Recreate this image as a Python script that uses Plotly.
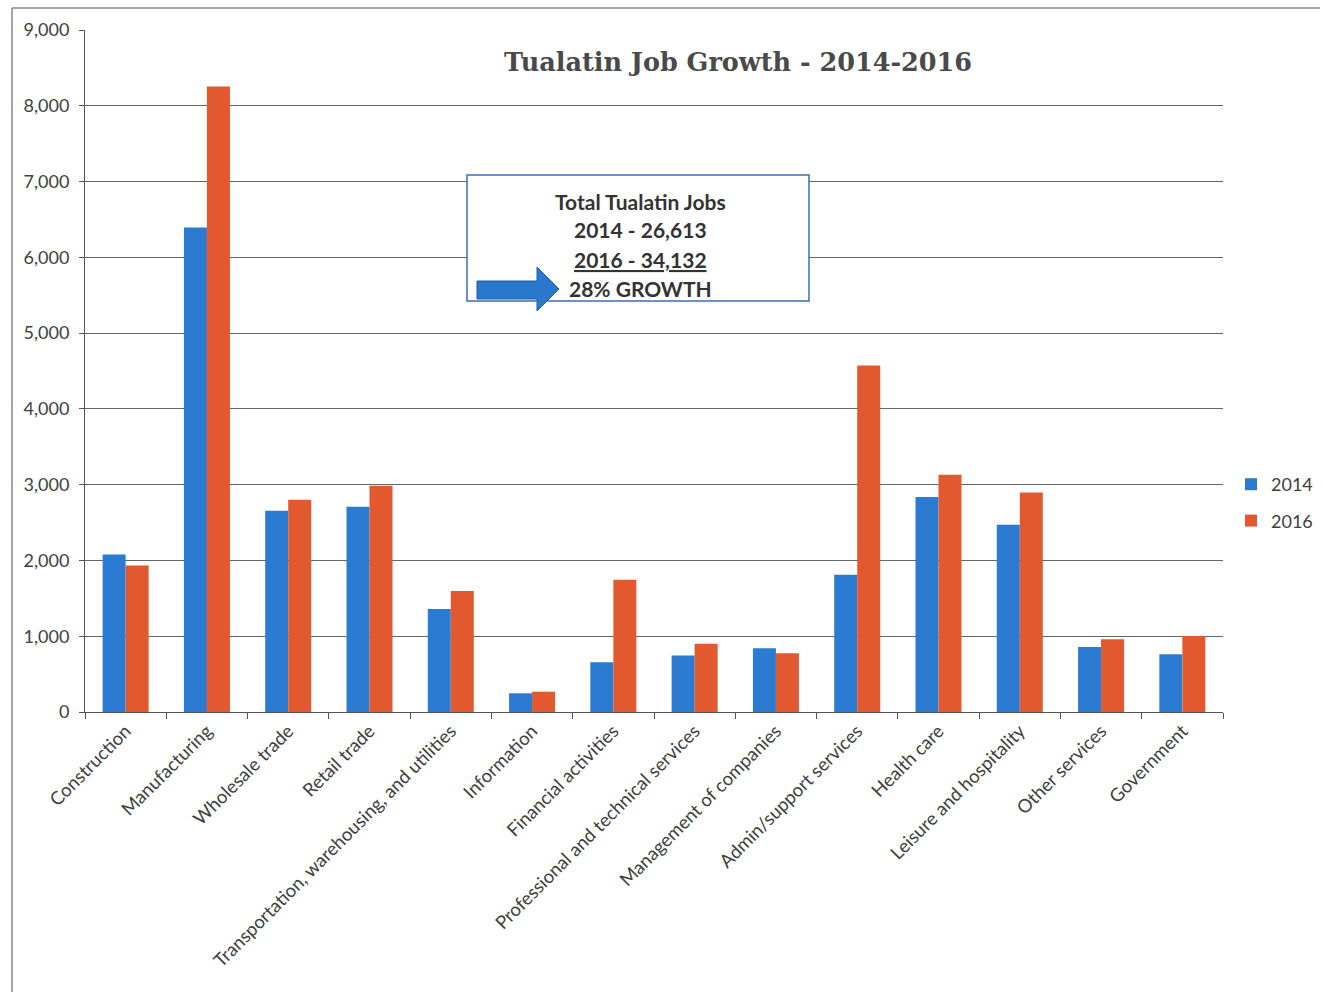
import plotly.graph_objects as go

# Job counts by industry, Tualatin
categories = [
    "Construction", "Manufacturing", "Wholesale trade", "Retail trade",
    "Transportation, warehousing, and utilities", "Information",
    "Financial activities", "Professional and technical services",
    "Management of companies", "Admin/support services", "Health care",
    "Leisure and hospitality", "Other services", "Government",
]
jobs_2014 = [2078, 6394, 2655, 2708, 1360, 247, 656, 744, 841, 1810, 2836, 2470, 859, 762]
jobs_2016 = [1933, 8256, 2800, 2985, 1598, 268, 1744, 902, 775, 4571, 3131, 2897, 960, 1004]
series_names = ["2014", "2016"]
y_ticks = [0, 1000, 2000, 3000, 4000, 5000, 6000, 7000, 8000, 9000]
y_tick_text = ["0", "1,000", "2,000", "3,000", "4,000", "5,000", "6,000", "7,000", "8,000", "9,000"]
summary_lines = ["Total Tualatin Jobs", "2014 - 26,613", "2016 - 34,132", "28% GROWTH"]

W, H = 1323, 992
L, R, T, B = 85, 100, 30, 280
PW, PH = W - L - R, H - T - B


def px(x):
    return (x - L) / PW


def py(y):
    return (H - B - y) / PH


BLUE = "#2b7bd3"
ORANGE = "#e3592f"
TEXT = "#404040"
GRID = "#666666"
FONT = "Lato, 'Open Sans', sans-serif"

fig = go.Figure()
fig.add_trace(go.Bar(x=categories, y=jobs_2014, name=series_names[0],
                     marker=dict(color=BLUE, line=dict(width=0)), legendgroup="a"))
fig.add_trace(go.Bar(x=categories, y=jobs_2016, name=series_names[1],
                     marker=dict(color=ORANGE, line=dict(width=0)), legendgroup="b"))

fig.update_layout(
    width=W, height=H,
    margin=dict(l=L, r=R, t=T, b=B, autoexpand=False),
    paper_bgcolor="white", plot_bgcolor="white",
    barmode="group", bargap=0.434, bargroupgap=0,
    font=dict(family=FONT, size=18, color=TEXT),
    title=dict(text="<b>Tualatin Job Growth - 2014-2016</b>",
               font=dict(family="'DejaVu Serif', serif", size=25.5, color="#4a4a4a"),
               xref="paper", x=px(738), xanchor="center",
               yref="container", y=1 - 62 / H, yanchor="middle"),
    legend=dict(x=px(1231), xanchor="left", y=py(466), yanchor="top",
                font=dict(family=FONT, size=18, color=TEXT),
                tracegroupgap=10, itemwidth=30, bgcolor="rgba(0,0,0,0)"),
    xaxis=dict(tickangle=-45, tickson="boundaries", ticks="outside", ticklen=6,
               tickcolor="#555", showline=True, linecolor="#555", linewidth=1,
               showgrid=False, tickfont=dict(family=FONT, size=18.5, color=TEXT)),
    yaxis=dict(range=[0, 9000], tickvals=y_ticks, ticktext=y_tick_text,
               ticks="outside", ticklen=5, tickcolor="#555", ticklabelstandoff=6,
               showline=True, linecolor="#555", linewidth=1,
               showgrid=True, gridcolor=GRID, gridwidth=1, zeroline=False,
               tickfont=dict(family=FONT, size=18, color=TEXT)),
)

# Page frame (top and left edges)
fig.add_shape(type="line", xref="paper", yref="paper",
              x0=px(12), x1=px(1320), y0=py(8), y1=py(8),
              line=dict(color="#888888", width=1.5))
fig.add_shape(type="line", xref="paper", yref="paper",
              x0=px(12), x1=px(12), y0=py(8), y1=py(992),
              line=dict(color="#888888", width=1.5))

# Summary box
fig.add_shape(type="rect", xref="paper", yref="paper",
              x0=px(467), x1=px(809), y0=py(301), y1=py(175),
              line=dict(color="#3b6db8", width=1.5), fillcolor="white", layer="above")

line_y = [201, 230, 259, 288]
for i, (txt, yy) in enumerate(zip(summary_lines, line_y)):
    f = dict(family=FONT, size=21, color="#333333")
    if i == 2:
        f["lineposition"] = "under"
    fig.add_annotation(text=f"<b>{txt}</b>", xref="paper", yref="paper",
                       x=px(640), y=py(yy), xanchor="center", yanchor="middle",
                       showarrow=False, font=f)

# Block arrow
pts = [(477, 281), (537, 281), (537, 267), (559, 289), (537, 311), (537, 299), (477, 299)]
path = "M " + " L ".join(f"{px(a):.5f},{py(b):.5f}" for a, b in pts) + " Z"
fig.add_shape(type="path", xref="paper", yref="paper", path=path,
              fillcolor="#2a78cc", line=dict(color="#1f5fa8", width=1), layer="above")

fig.write_html("out.html")
